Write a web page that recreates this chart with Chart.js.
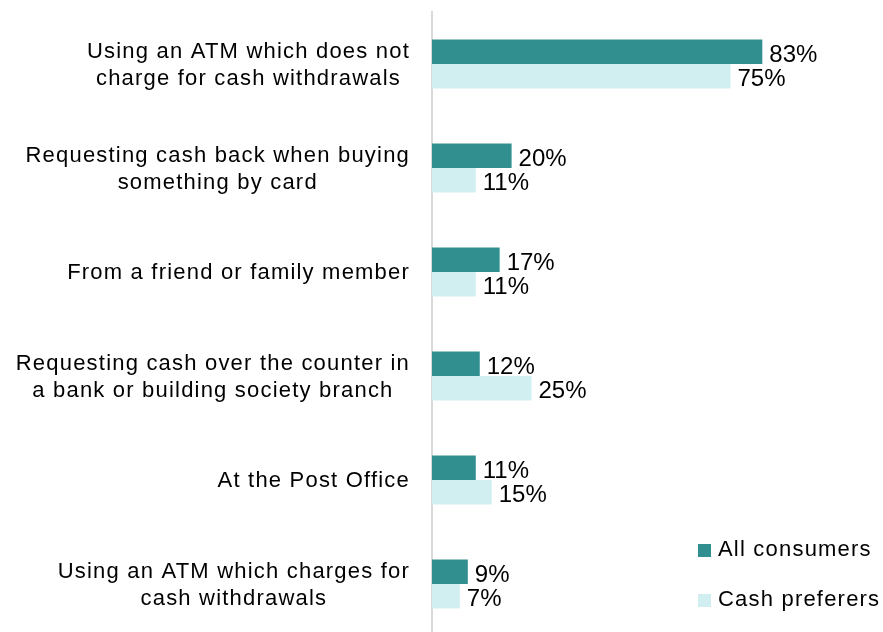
<!DOCTYPE html>
<html>
<head>
<meta charset="utf-8">
<script src="https://cdn.jsdelivr.net/npm/chart.js@4/dist/chart.umd.min.js"></script>
<style>
  html, body { margin: 0; padding: 0; overflow: hidden; background: #fff; }
  #wrap { position: relative; width: 883px; height: 636px; }
</style>
</head>
<body>
<div id="wrap"><canvas id="c"></canvas></div>
<script>
const categories = [
  ["Using an ATM which does not", "charge for cash withdrawals"],
  ["Requesting cash back when buying", "something by card"],
  ["From a friend or family member"],
  ["Requesting cash over the counter in", "a bank or building society branch"],
  ["At the Post Office"],
  ["Using an ATM which charges for", "cash withdrawals"]
];
const seriesNames = ["All consumers", "Cash preferers"];
const allConsumers = [83, 20, 17, 12, 11, 9];
const cashPreferers = [75, 11, 11, 25, 15, 7];
const seriesColors = ["#31908f", "#d1eff0"];

const LABEL_FONT = '22px "Liberation Sans", Arial, sans-serif';
const LABEL_SPACING = '1.2px';
const VALUE_FONT = '24px "Liberation Sans", Arial, sans-serif';

const labelPlugin = {
  id: 'customText',
  afterDraw(chart) {
    const ctx = chart.ctx;
    const yScale = chart.scales.y;
    const area = chart.chartArea;
    ctx.save();
    ctx.fillStyle = '#000';
    // category labels: block right-aligned, lines centred within block
    ctx.font = LABEL_FONT;
    if ('letterSpacing' in ctx) ctx.letterSpacing = LABEL_SPACING;
    categories.forEach((lines, i) => {
      const cy = yScale.getPixelForTick(i);
      let widest = 0;
      lines.forEach(l => { widest = Math.max(widest, ctx.measureText(l).width); });
      const cx = area.left - 22 - widest / 2;
      ctx.textAlign = 'center';
      ctx.textBaseline = 'alphabetic';
      const n = lines.length;
      lines.forEach((l, k) => {
        const y = cy + 7 - (n - 1) * 13.5 + k * 27;
        ctx.fillText(l, cx, y);
      });
    });
    // legend
    const lx = 698, ly = [556, 606];
    seriesNames.forEach((name, i) => {
      ctx.fillStyle = seriesColors[i];
      ctx.fillRect(lx, ly[i] - 12, 13, 13);
      ctx.fillStyle = '#000';
      ctx.textAlign = 'left';
      ctx.fillText(name, lx + 20, ly[i]);
    });
    // value labels
    ctx.font = VALUE_FONT;
    if ('letterSpacing' in ctx) ctx.letterSpacing = '0px';
    chart.data.datasets.forEach((ds, di) => {
      const meta = chart.getDatasetMeta(di);
      meta.data.forEach((bar, i) => {
        ctx.textAlign = 'left';
        ctx.textBaseline = 'alphabetic';
        ctx.fillText(ds.data[i] + '%', bar.x + 7, bar.y + 10);
      });
    });
    ctx.restore();
  }
};

new Chart(document.getElementById('c'), {
  type: 'bar',
  data: {
    labels: categories,
    datasets: [
      { label: seriesNames[0], data: allConsumers, backgroundColor: seriesColors[0], borderWidth: 0 },
      { label: seriesNames[1], data: cashPreferers, backgroundColor: seriesColors[1], borderWidth: 0 }
    ]
  },
  options: {
    indexAxis: 'y',
    responsive: true,
    maintainAspectRatio: false,
    animation: false,
    events: [],
    layout: { padding: { top: 12, right: 53, bottom: 0, left: 0 } },
    datasets: { bar: { categoryPercentage: 0.47, barPercentage: 1.0 } },
    plugins: { legend: { display: false }, tooltip: { enabled: false } },
    scales: {
      x: { display: false, min: 0, max: 100 },
      y: {
        grid: { display: false },
        border: { display: true, color: '#d9d9d9', width: 2 },
        ticks: { display: false },
        afterFit(scale) { scale.width = 432; }
      }
    }
  },
  plugins: [labelPlugin]
});
</script>
</body>
</html>
